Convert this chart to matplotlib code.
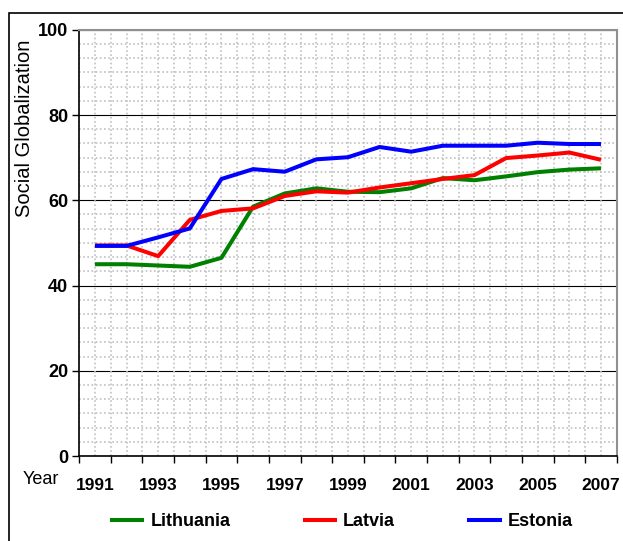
import numpy as np
import matplotlib
matplotlib.use('Agg')
import matplotlib.pyplot as plt
from matplotlib.ticker import MultipleLocator, FixedLocator
from matplotlib.patches import Rectangle

# Data
years = list(range(1991, 2008))
lithuania = [45.0, 45.0, 44.7, 44.4, 46.5, 58.5, 61.6, 62.8, 62.0, 61.9, 62.8, 65.2, 64.7, 65.6, 66.6, 67.2, 67.5]
latvia = [49.4, 49.4, 46.9, 55.4, 57.5, 58.1, 61.0, 62.1, 61.8, 63.0, 64.0, 65.0, 65.9, 69.9, 70.5, 71.2, 69.5]
estonia = [49.3, 49.3, 51.3, 53.4, 65.0, 67.3, 66.7, 69.6, 70.1, 72.5, 71.4, 72.8, 72.8, 72.8, 73.5, 73.2, 73.2]
series_names = ['Lithuania', 'Latvia', 'Estonia']
series_colors = ['#008000', '#ff0000', '#0000ff']

plt.rcParams['font.family'] = ['Liberation Sans', 'DejaVu Sans']

fig = plt.figure(figsize=(6.23, 5.41), dpi=100)
ax = fig.add_axes([0.127, 0.157, 0.863, 0.788])

x = np.arange(len(years))
for vals, name, col in zip([lithuania, latvia, estonia], series_names, series_colors):
    ax.plot(x, vals, color=col, linewidth=2.9, label=name, solid_capstyle='butt', zorder=3)

ax.set_xlim(-0.5, len(years) - 0.5)
ax.set_ylim(0, 100)

# x axis: labels every other year, tick marks between categories
ax.set_xticks(x[::2])
ax.set_xticklabels([str(y) for y in years[::2]], fontsize=12.5, fontweight='bold')
ax.xaxis.set_minor_locator(FixedLocator(np.arange(-0.5, len(years), 1.0)))
ax.tick_params(axis='x', which='major', length=0, pad=15.5)
ax.tick_params(axis='x', which='minor', length=5, width=1, direction='out')

# y axis
ax.set_yticks(np.arange(0, 101, 20))
ax.set_yticklabels([str(v) for v in range(0, 101, 20)], fontsize=13, fontweight='bold')
ax.yaxis.set_minor_locator(MultipleLocator(20 / 6))
ax.tick_params(axis='y', which='major', length=5, width=1, direction='out', pad=3)
ax.tick_params(axis='y', which='minor', length=0)

# grids
ax.grid(axis='y', which='major', color='black', linewidth=0.8, zorder=1)
ax.grid(axis='y', which='minor', color='#c0c0c0', linestyle=(0, (1, 1.5)), linewidth=1.2, zorder=1)
for xv in np.arange(-0.5, len(years), 0.5):
    ax.axvline(xv, color='#c0c0c0', linestyle=(0, (1, 1.5)), linewidth=1.2, zorder=1)
ax.set_axisbelow(True)

ax.spines['left'].set_color('black')
ax.spines['left'].set_linewidth(1.2)
ax.spines['bottom'].set_color('black')
ax.spines['bottom'].set_linewidth(1.2)
ax.spines['top'].set_color('#909090')
ax.spines['right'].set_color('#909090')
ax.spines['top'].set_linewidth(1.5)
ax.spines['right'].set_linewidth(1.5)

fig.text(25 / 623, 1 - 128 / 541, 'Social Globalization', rotation=90, fontsize=14.5,
         ha='center', va='center')
fig.text(23 / 623, 1 - 479 / 541, 'Year', fontsize=13, ha='left', va='center')

leg = fig.legend(loc='center', bbox_to_anchor=(0.548, 1 - 522 / 541), ncol=3, frameon=False,
                 prop={'size': 13, 'weight': 'bold'}, handlelength=1.9, handletextpad=0.35,
                 columnspacing=4.0)

# outer frame of the chart
fig.patches.append(Rectangle((9 / 623, -0.05), 1.1, 1 - 13 / 541 + 0.05, transform=fig.transFigure,
                             fill=False, edgecolor='black', linewidth=1.2))

fig.savefig('out.png', dpi=100)
